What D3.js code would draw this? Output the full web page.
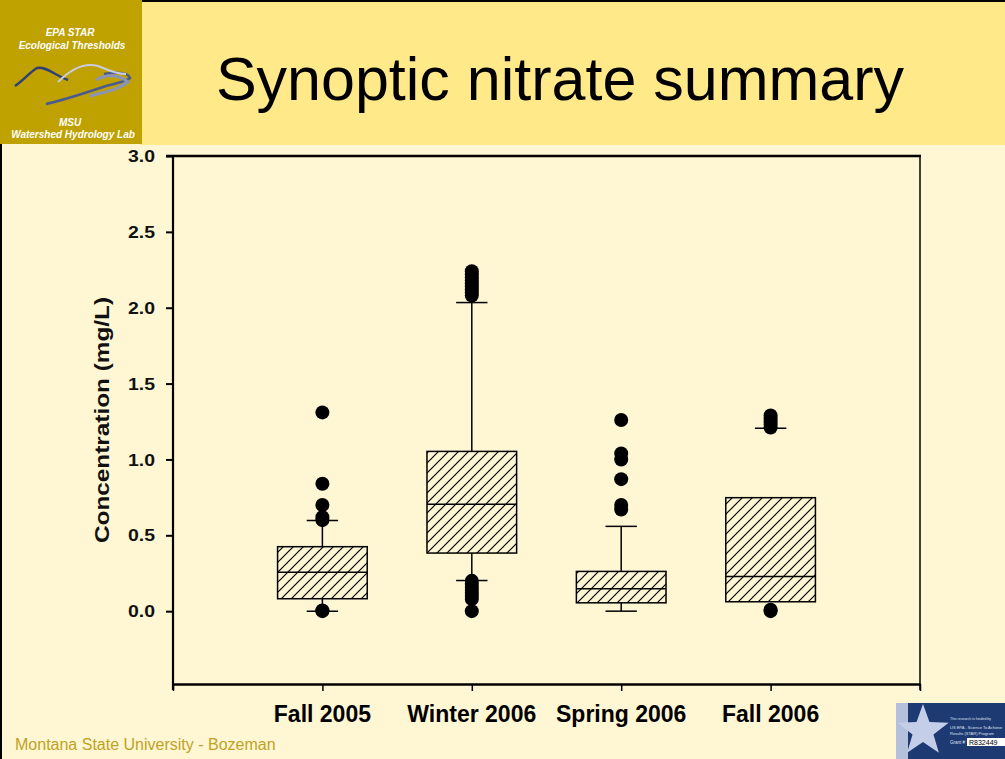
<!DOCTYPE html>
<html><head><meta charset="utf-8">
<script src="https://cdn.jsdelivr.net/npm/d3@7"></script>
<style>html,body{margin:0;padding:0;background:#FFF6D4;}svg{display:block;}</style>
</head><body>
<script>
// ---- data ----
const categories = ["Fall 2005", "Winter 2006", "Spring 2006", "Fall 2006"];
const q1 = [0.082, 0.383, 0.055, 0.062];
const medians = [0.257, 0.704, 0.148, 0.229];
const q3 = [0.425, 1.053, 0.262, 0.748];
const whiskerLow = [0.0, 0.202, 0.0, 0.062];
const whiskerHigh = [0.598, 2.034, 0.559, 1.205];
const outliers = [
  [1.31, 0.84, 0.70, 0.62, 0.60, 0.005, 0.0],
  [2.24, 2.22, 2.20, 2.18, 2.16, 2.14, 2.12, 2.10, 2.08, 0.20, 0.18, 0.16, 0.14, 0.12, 0.10, 0.08, 0.0],
  [1.26, 1.04, 1.00, 0.87, 0.70, 0.67],
  [1.29, 1.27, 1.25, 1.23, 1.21, 0.01, 0.0]
];
const hiddenUpperWhiskerLine = ["Fall 2006"];
const yTicks = [0.0, 0.5, 1.0, 1.5, 2.0, 2.5, 3.0];
const xTickPositions = [0, 1, 2, 3, 4, 5];
const yDomain = [-0.48, 3.0];
const titleText = "Synoptic nitrate summary";
const yTitle = "Concentration (mg/L)";
const footerText = "Montana State University - Bozeman";

const W = 1005, H = 759;
const svg = d3.select("body").append("svg").attr("width", W).attr("height", H);

// background & header
svg.append("rect").attr("width", W).attr("height", H).attr("fill", "#FFF6D4");
svg.append("rect").attr("x", 140).attr("y", 0).attr("width", W - 140).attr("height", 145).attr("fill", "#FFE989");
svg.append("line").attr("x1", 0).attr("x2", W).attr("y1", 1).attr("y2", 1).attr("stroke", "#000").attr("stroke-width", 2);
svg.append("line").attr("x1", 1).attr("x2", 1).attr("y1", 0).attr("y2", H).attr("stroke", "#000").attr("stroke-width", 2);

// logo box
svg.append("rect").attr("x", 0).attr("y", 0).attr("width", 142).attr("height", 144).attr("fill", "#BFA100");
const logoText = [["EPA STAR", 70, 36], ["Ecological Thresholds", 72, 49], ["MSU", 70, 126], ["Watershed Hydrology Lab", 73, 138]];
svg.selectAll("text.logo").data(logoText).join("text").attr("class", "logo")
  .attr("x", d => d[1]).attr("y", d => d[2]).attr("text-anchor", "middle")
  .attr("font-family", "Liberation Sans, Arial, sans-serif").attr("font-weight", "bold").attr("font-style", "italic")
  .attr("font-size", 10).attr("fill", "#FFFFFF").text(d => d[0]);
// wave graphic
svg.append("path").attr("d", "M15,86 C24,80 30,72 37,68 C46,66 56,76 68,80")
  .attr("fill", "none").attr("stroke", "#2f3f78").attr("stroke-width", 2.5);
svg.append("path").attr("d", "M46,104 C64,100 82,94 100,88 C112,84 126,82 130,78 C128,72 116,72 104,74")
  .attr("fill", "none").attr("stroke", "#4a5a90").attr("stroke-width", 2.5);
svg.append("path").attr("d", "M58,82 C70,70 84,62 98,66 C108,70 116,74 126,74")
  .attr("fill", "none").attr("stroke", "#c8ccdc").attr("stroke-width", 2);
svg.append("path").attr("d", "M96,80 C106,74 118,74 128,82 C118,90 104,92 90,96")
  .attr("fill", "none").attr("stroke", "#8a94b8").attr("stroke-width", 3);

// title
svg.append("text").attr("x", 560).attr("y", 100).attr("text-anchor", "middle")
  .attr("font-family", "Liberation Sans, Arial, sans-serif").attr("font-size", 61)
  .attr("fill", "#000").text(titleText);

// scales
const x = d3.scaleLinear().domain([0, 5]).range([173, 920]);
const y = d3.scaleLinear().domain(yDomain).range([684, 156]);
const boxW = (x(1) - x(0)) * 0.6;
const capW = (x(1) - x(0)) * 0.21;

// hatch pattern
const defs = svg.append("defs");
const pat = defs.append("pattern").attr("id", "hatch").attr("patternUnits", "userSpaceOnUse")
  .attr("width", 10).attr("height", 10);
pat.append("rect").attr("width", 10).attr("height", 10).attr("fill", "#FFF6D4");
pat.append("path").attr("d", "M-2,2 L2,-2 M0,10 L10,0 M8,12 L12,8")
  .attr("stroke", "#000").attr("stroke-width", 1.2);

// frame
svg.append("line").attr("x1", 166).attr("x2", 921).attr("y1", y(3)).attr("y2", y(3)).attr("stroke", "#000").attr("stroke-width", 2.5);
svg.append("line").attr("x1", 920).attr("x2", 920).attr("y1", y(3)).attr("y2", y(yDomain[0]) + 6).attr("stroke", "#000").attr("stroke-width", 1.5);

// y axis
const yAxis = svg.append("g").attr("transform", `translate(${x(0)},0)`)
  .call(d3.axisLeft(y).tickValues(yTicks).tickSize(7).tickSizeOuter(0).tickPadding(11).tickFormat(d3.format(".1f")));
yAxis.select(".domain").attr("stroke-width", 2.2).attr("d", `M0,${y(3)}V${y(yDomain[0]) + 6}`);
yAxis.selectAll(".tick line").attr("stroke-width", 2);
yAxis.selectAll(".tick text").attr("font-family", "Liberation Sans, Arial, sans-serif").attr("font-weight", "bold")
  .attr("font-size", 16).attr("fill", "#111").attr("dy", "0.35em").attr("textLength", 27).attr("lengthAdjust", "spacingAndGlyphs");

// x axis
const xAxis = svg.append("g").attr("transform", `translate(0,${y(yDomain[0])})`)
  .call(d3.axisBottom(x).tickValues(xTickPositions).tickSize(7).tickSizeOuter(0).tickFormat(""));
xAxis.select(".domain").attr("stroke-width", 2.5);
xAxis.selectAll(".tick line").attr("stroke-width", 1.5);

svg.selectAll("text.xlab").data(categories).join("text").attr("class", "xlab")
  .attr("x", (d, i) => x(i + 1)).attr("y", 722).attr("text-anchor", "middle")
  .attr("font-family", "Liberation Sans, Arial, sans-serif").attr("font-weight", "bold")
  .attr("font-size", 23).attr("fill", "#000").text(d => d);

// y title
svg.append("text").attr("transform", `translate(109,420) rotate(-90)`).attr("text-anchor", "middle")
  .attr("font-family", "Liberation Sans, Arial, sans-serif").attr("font-weight", "bold")
  .attr("font-size", 21).attr("fill", "#111").attr("textLength", 246).attr("lengthAdjust", "spacingAndGlyphs")
  .text(yTitle);

// boxes
const g = svg.append("g");
categories.forEach((c, i) => {
  const cx = x(i + 1);
  if (!hiddenUpperWhiskerLine.includes(c)) {
    g.append("line").attr("x1", cx).attr("x2", cx).attr("y1", y(q3[i])).attr("y2", y(whiskerHigh[i])).attr("stroke", "#000").attr("stroke-width", 1.5);
  }
  g.append("line").attr("x1", cx).attr("x2", cx).attr("y1", y(q1[i])).attr("y2", y(whiskerLow[i])).attr("stroke", "#000").attr("stroke-width", 1.5);
  g.append("line").attr("x1", cx - capW / 2).attr("x2", cx + capW / 2).attr("y1", y(whiskerHigh[i])).attr("y2", y(whiskerHigh[i])).attr("stroke", "#000").attr("stroke-width", 1.5);
  if (whiskerLow[i] !== q1[i]) {
    g.append("line").attr("x1", cx - capW / 2).attr("x2", cx + capW / 2).attr("y1", y(whiskerLow[i])).attr("y2", y(whiskerLow[i])).attr("stroke", "#000").attr("stroke-width", 1.5);
  }
  g.append("rect").attr("x", cx - boxW / 2).attr("y", y(q3[i])).attr("width", boxW).attr("height", y(q1[i]) - y(q3[i]))
    .attr("fill", "url(#hatch)").attr("stroke", "#000").attr("stroke-width", 1.5);
  g.append("line").attr("x1", cx - boxW / 2).attr("x2", cx + boxW / 2).attr("y1", y(medians[i])).attr("y2", y(medians[i])).attr("stroke", "#000").attr("stroke-width", 1.5);
  g.selectAll(null).data(outliers[i]).join("circle")
    .attr("cx", cx).attr("cy", d => y(d)).attr("r", 7).attr("fill", "#000");
});

// footer
svg.append("text").attr("x", 15).attr("y", 750)
  .attr("font-family", "Liberation Sans, Arial, sans-serif").attr("font-size", 16).attr("fill", "#BFA21E")
  .text(footerText);

// EPA logo bottom-right
const lg = svg.append("g");
lg.append("rect").attr("x", 896).attr("y", 703).attr("width", 109).attr("height", 56).attr("fill", "#1E3A72");
lg.append("rect").attr("x", 896).attr("y", 703).attr("width", 12).attr("height", 56).attr("fill", "#B4C0DC");
const star = d3.range(10).map(k => {
  const r = k % 2 === 0 ? 27 : 11;
  const a = -Math.PI / 2 + k * Math.PI / 5;
  return [923 + r * Math.cos(a), 731 + r * Math.sin(a)];
});
lg.append("path").attr("d", d3.line()(star) + "Z").attr("fill", "#C4CEE8");
const smallLines = [["This research is funded by", 950, 720, 3.5], ["US EPA - Science To Achieve", 950, 729, 4], ["Results (STAR) Program", 950, 735, 4], ["Grant #", 950, 744, 4.5]];
lg.selectAll("text.sm").data(smallLines).join("text").attr("class", "sm")
  .attr("x", d => d[1]).attr("y", d => d[2]).attr("font-family", "Liberation Sans, Arial, sans-serif")
  .attr("font-size", d => d[3]).attr("fill", "#DDE3F2").text(d => d[0]);
lg.append("rect").attr("x", 967).attr("y", 738).attr("width", 38).attr("height", 8).attr("fill", "#FFFFFF");
lg.append("text").attr("x", 969).attr("y", 745).attr("font-family", "Liberation Sans, Arial, sans-serif")
  .attr("font-size", 7).attr("fill", "#000").text("R832449");
</script>
</body></html>
